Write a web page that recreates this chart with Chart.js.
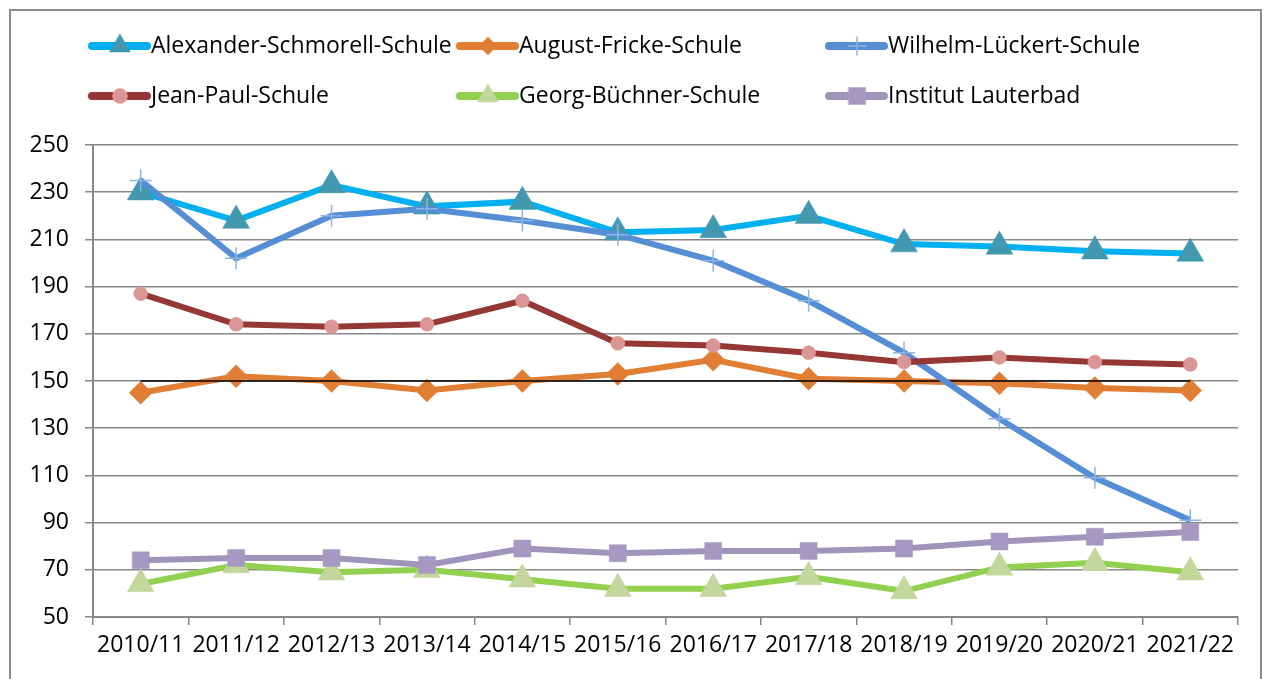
<!DOCTYPE html>
<html>
<head>
<meta charset="utf-8">
<script src="https://cdn.jsdelivr.net/npm/chart.js@4/dist/chart.umd.min.js"></script>
<style>
  html, body { margin: 0; padding: 0; background: #fff; }
  #wrap { position: relative; width: 1268px; height: 679px; overflow: hidden; }
  #frame { position: absolute; left: 9px; top: 9px; width: 1253px; height: 700px; border: 2px solid #8c8c8c; box-sizing: border-box; }
  canvas { position: absolute; left: 0; top: 0; }
</style>
</head>
<body>
<div id="wrap">
  <div id="frame"></div>
  <canvas id="chart" width="1268" height="679"></canvas>
</div>
<script>
const categories = ["2010/11", "2011/12", "2012/13", "2013/14", "2014/15", "2015/16",
  "2016/17", "2017/18", "2018/19", "2019/20", "2020/21", "2021/22"];

const alexander = [230, 218, 233, 224, 226, 213, 214, 220, 208, 207, 205, 204];
const august = [145, 152, 150, 146, 150, 153, 159, 151, 150, 149, 147, 146];
const wilhelm = [235, 202, 220, 223, 218, 212, 201, 184, 162, 134, 109, 91];
const jeanPaul = [187, 174, 173, 174, 184, 166, 165, 162, 158, 160, 158, 157];
const georg = [64, 72, 69, 70, 66, 62, 62, 67, 61, 71, 73, 69];
const lauterbad = [74, 75, 75, 72, 79, 77, 78, 78, 79, 82, 84, 86];
const reference = [150, 150, 150, 150, 150, 150, 150, 150, 150, 150, 150, 150];

const yTicks = [50, 70, 90, 110, 130, 150, 170, 190, 210, 230, 250];

const FONT = "'Open Sans', sans-serif";
const GRID = "#878787";

function series(label, data, line, style, fill, edge, radius, legendRadius, order) {
  return {
    label: label,
    data: data,
    borderColor: line,
    borderWidth: 6,
    pointStyle: style,
    pointRadius: radius,
    pointHoverRadius: radius,
    pointBackgroundColor: fill,
    pointBorderColor: edge,
    pointBorderWidth: style === "cross" ? 1.5 : 0.5,
    legendRadius: legendRadius,
    tension: 0,
    order: order
  };
}

const datasets = [
  series("Alexander-Schmorell-Schule", alexander, "#00b0f0", "triangle", "#4198af", "#4198af", 15.5, 12, 7),
  series("August-Fricke-Schule", august, "#e07e34", "rectRot", "#e07e34", "#e07e34", 11.5, 9, 6),
  series("Wilhelm-Lückert-Schule", wilhelm, "#558ed5", "cross", "#8eb4e3", "#8eb4e3", 11, 9, 5),
  series("Jean-Paul-Schule", jeanPaul, "#953735", "circle", "#d99694", "#d99694", 7, 7.5, 4),
  series("Georg-Büchner-Schule", georg, "#92d050", "triangle", "#c3d69b", "#c3d69b", 15.5, 12, 3),
  series("Institut Lauterbad", lauterbad, "#a094ba", "rect", "#a598c2", "#a598c2", 12, 12, 2),
  {
    label: "Referenz",
    data: reference,
    borderColor: "#000000",
    borderWidth: 1.5,
    pointRadius: 0,
    noLegend: true,
    order: 5.5
  }
];

// legend laid out in a 3-column grid like the original
const gridLegend = {
  id: "gridLegend",
  afterDraw(chart) {
    const ctx = chart.ctx;
    const cols = [92, 460, 829];
    const rows = [46, 96];
    ctx.save();
    chart.data.datasets.forEach((ds, i) => {
      if (ds.noLegend) return;
      const x = cols[i % 3];
      const y = rows[Math.floor(i / 3)];
      ctx.beginPath();
      ctx.lineCap = "round";
      ctx.lineWidth = 8;
      ctx.strokeStyle = ds.borderColor;
      ctx.moveTo(x, y);
      ctx.lineTo(x + 55, y);
      ctx.stroke();
      ctx.fillStyle = ds.pointBackgroundColor;
      ctx.strokeStyle = ds.pointBorderColor;
      ctx.lineWidth = ds.pointBorderWidth;
      Chart.helpers.drawPoint(ctx, { pointStyle: ds.pointStyle, radius: ds.legendRadius, rotation: 0, borderWidth: ds.pointBorderWidth }, x + 28, y);
      ctx.fillStyle = "#000";
      ctx.font = "23px " + FONT;
      ctx.textBaseline = "middle";
      ctx.textAlign = "left";
      ctx.fillText(ds.label, x + 59, y);
    });
    ctx.restore();
  }
};

new Chart(document.getElementById("chart").getContext("2d"), {
  type: "line",
  data: { labels: categories, datasets: datasets },
  plugins: [gridLegend],
  options: {
    responsive: false,
    animation: false,
    layout: { padding: { top: 145, right: 30, left: 0, bottom: 0 } },
    plugins: {
      legend: { display: false },
      tooltip: { enabled: false }
    },
    scales: {
      x: {
        offset: true,
        grid: {
          offset: true,
          drawOnChartArea: false,
          drawTicks: true,
          tickLength: 8,
          color: GRID,
          lineWidth: 1.5
        },
        border: { color: GRID, width: 2 },
        ticks: { color: "#000", font: { family: FONT, size: 23 }, padding: 7, maxRotation: 0, autoSkip: false },
        afterFit: (scale) => { scale.height = 62; }
      },
      y: {
        min: 50,
        max: 250,
        afterBuildTicks: (scale) => { scale.ticks = yTicks.map((v) => ({ value: v })); },
        grid: { color: GRID, lineWidth: 1.5, tickLength: 8 },
        border: { color: GRID, width: 2 },
        ticks: { color: "#000", font: { family: FONT, size: 23 }, padding: 16 },
        afterFit: (scale) => { scale.width = 93; }
      }
    }
  }
});
</script>
</body>
</html>
